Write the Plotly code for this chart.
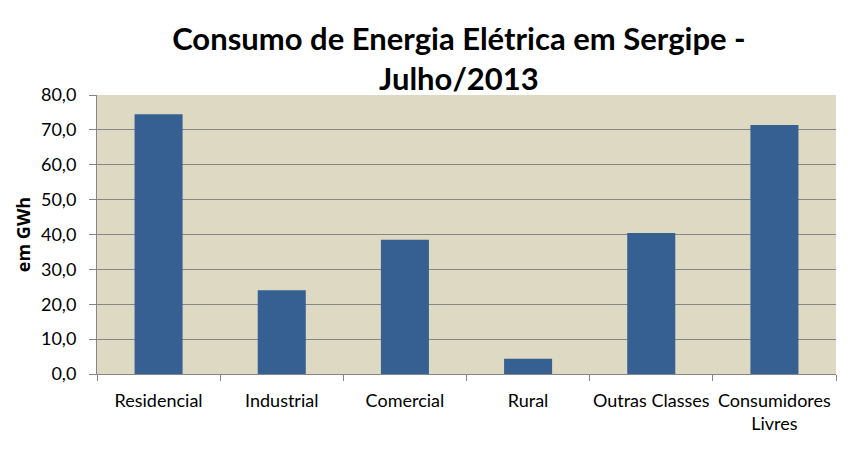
import plotly.graph_objects as go

categories = ["Residencial", "Industrial", "Comercial", "Rural", "Outras Classes", "Consumidores<br>Livres"]
values = [74.5, 24.0, 38.5, 4.4, 40.4, 71.4]
y_ticks = [0, 10, 20, 30, 40, 50, 60, 70, 80]
y_tick_labels = ["0,0", "10,0", "20,0", "30,0", "40,0", "50,0", "60,0", "70,0", "80,0"]

fig = go.Figure(go.Bar(x=categories, y=values, marker=dict(color="#376092", line=dict(width=0))))

fig.update_layout(
    width=854, height=465,
    margin=dict(l=89, r=26, t=87, b=99),
    paper_bgcolor="white", plot_bgcolor="#DDD9C3",
    font=dict(family="Lato, Open Sans, sans-serif", size=18, color="black"),
    title=dict(text="<b>Consumo de Energia Elétrica em Sergipe -<br>Julho/2013</b>",
               x=0.528, xanchor="center", y=0.91, yanchor="middle",
               font=dict(size=31, color="black")),
    bargap=0.61, showlegend=False,
)
fig.update_xaxes(showline=True, linecolor="#868686", linewidth=1,
                 ticks="outside", tickson="boundaries", ticklen=6, tickcolor="#868686",
                 ticklabelstandoff=10,
                 tickfont=dict(size=18), tickangle=0, showgrid=False, automargin=False)
fig.update_yaxes(range=[0, 80], tickvals=y_ticks, ticktext=y_tick_labels,
                 showline=True, linecolor="#868686", linewidth=1,
                 ticks="outside", ticklen=7, tickcolor="#868686", ticklabelstandoff=9,
                 gridcolor="#868686", gridwidth=1, zeroline=False,
                 tickfont=dict(size=18), automargin=False,
                 title=dict(text="<b>em GWh</b>", font=dict(size=18, family="Open Sans"), standoff=5))

fig.write_html("out.html")
